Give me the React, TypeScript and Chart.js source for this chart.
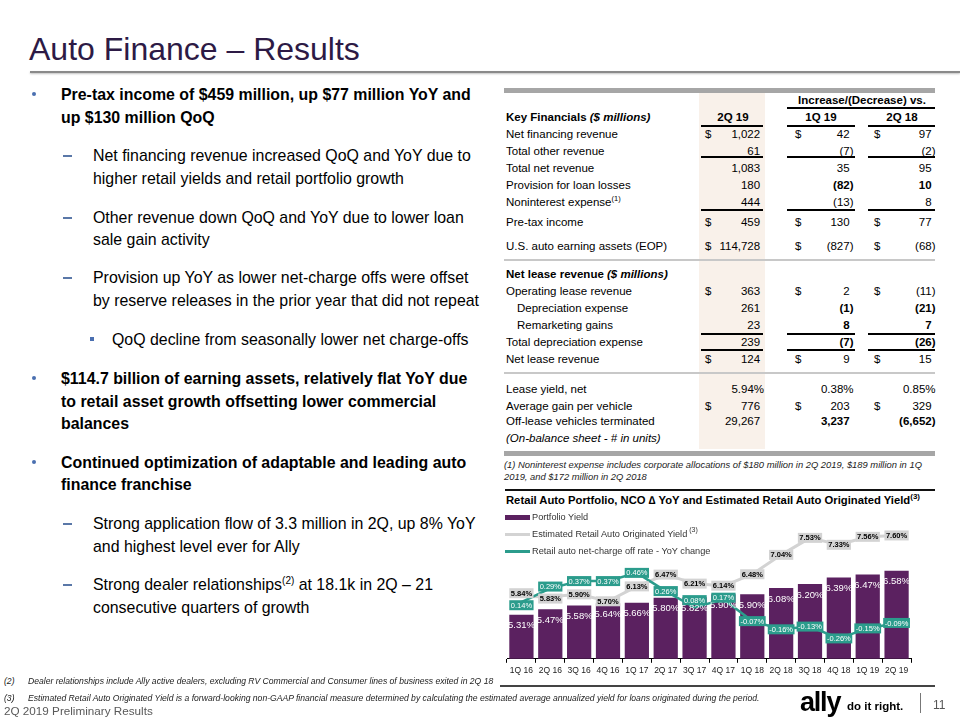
import React, { useEffect, useRef } from "react";
import { Chart, registerables } from "chart.js";

Chart.register(...registerables);

const FONT = '"Liberation Sans", Arial, Helvetica, sans-serif';

// ---------- chart data ----------
const quarters = ["1Q 16", "2Q 16", "3Q 16", "4Q 16", "1Q 17", "2Q 17", "3Q 17", "4Q 17", "1Q 18", "2Q 18", "3Q 18", "4Q 18", "1Q 19", "2Q 19"];
const portfolioYield = [5.31, 5.47, 5.58, 5.64, 5.66, 5.8, 5.82, 5.9, 5.9, 6.08, 6.2, 6.39, 6.47, 6.58];
const originatedYield = [5.84, 5.83, 5.9, 5.7, 6.13, 6.47, 6.21, 6.14, 6.48, 7.04, 7.53, 7.33, 7.56, 7.6];
const ncoYoYChange = [0.14, 0.29, 0.37, 0.37, 0.46, 0.26, 0.08, 0.17, -0.07, -0.16, -0.13, -0.26, -0.15, -0.09];

const PURPLE = "#5b2160";
const TEAL = "#2b9c8c";
const LGRAY = "#d3d3d3";

// ---------- table data ----------
type Cell = { v: string; d?: boolean; b?: boolean };
type Row = { label: string; sup?: string; indent?: boolean; a?: Cell; b?: Cell; c?: Cell };

const tableRows: Row[] = [
  { label: "Net financing revenue", a: { v: "1,022", d: true }, b: { v: "42", d: true }, c: { v: "97", d: true } },
  { label: "Total other revenue", a: { v: "61" }, b: { v: "(7)" }, c: { v: "(2)" } },
  { label: "Total net revenue", a: { v: "1,083" }, b: { v: "35" }, c: { v: "95" } },
  { label: "Provision for loan losses", a: { v: "180" }, b: { v: "(82)", b: true }, c: { v: "10", b: true } },
  { label: "Noninterest expense", sup: "(1)", a: { v: "444" }, b: { v: "(13)" }, c: { v: "8" } },
  { label: "Pre-tax income", a: { v: "459", d: true }, b: { v: "130", d: true }, c: { v: "77", d: true } },
  { label: "U.S. auto earning assets (EOP)", a: { v: "114,728", d: true }, b: { v: "(827)", d: true }, c: { v: "(68)", d: true } },
  { label: "Operating lease revenue", a: { v: "363", d: true }, b: { v: "2", d: true }, c: { v: "(11)", d: true } },
  { label: "Depreciation expense", indent: true, a: { v: "261" }, b: { v: "(1)", b: true }, c: { v: "(21)", b: true } },
  { label: "Remarketing gains", indent: true, a: { v: "23" }, b: { v: "8", b: true }, c: { v: "7", b: true } },
  { label: "Total depreciation expense", a: { v: "239" }, b: { v: "(7)", b: true }, c: { v: "(26)", b: true } },
  { label: "Net lease revenue", a: { v: "124", d: true }, b: { v: "9", d: true }, c: { v: "15", d: true } },
  { label: "Lease yield, net", a: { v: "5.94%" }, b: { v: "0.38%" }, c: { v: "0.85%" } },
  { label: "Average gain per vehicle", a: { v: "776", d: true }, b: { v: "203", d: true }, c: { v: "329", d: true } },
  { label: "Off-lease vehicles terminated", a: { v: "29,267" }, b: { v: "3,237", b: true }, c: { v: "(6,652)", b: true } },
];
const tableRowY = [134, 151, 168, 185, 202, 222, 246, 291, 308, 325, 342, 359, 389, 406, 421];

// ---------- chart label plugin ----------
const BOX_H = 10;
const valueLabelPlugin = {
  id: "valueLabels",
  afterDatasetsDraw(chart: any) {
    const ctx = chart.ctx;
    ctx.save();
    ctx.textAlign = "center";
    ctx.textBaseline = "middle";
    const datasets = chart.data.datasets;
    const metas = datasets.map((_: any, i: number) => chart.getDatasetMeta(i));
    const n = datasets[0].data.length;
    const barY: number[] = [];
    const grayY: number[] = [];
    const tealY: number[] = [];
    for (let j = 0; j < n; j++) {
      barY[j] = metas[0].data[j].y + 11;
      let g = metas[1].data[j].y;
      let t = metas[2].data[j].y;
      if (Math.abs(t - barY[j]) < 8) t = barY[j] - 8;
      if (Math.abs(g - t) < BOX_H + 2) {
        const mid = (g + t) / 2;
        const s = (BOX_H + 2) / 2;
        if (g <= t) {
          g = mid - s;
          t = mid + s;
        } else {
          g = mid + s;
          t = mid - s;
        }
      }
      grayY[j] = g;
      tealY[j] = t;
    }
    const fmt = (v: number) => v.toFixed(2) + "%";
    const bs = datasets[0].labelStyle;
    ctx.font = bs.font;
    ctx.fillStyle = bs.color;
    metas[0].data.forEach((el: any, j: number) => ctx.fillText(fmt(datasets[0].data[j]), el.x, barY[j]));
    const drawBoxes = (di: number, ys: number[]) => {
      const st = datasets[di].labelStyle;
      ctx.font = st.font;
      metas[di].data.forEach((el: any, j: number) => {
        const text = fmt(datasets[di].data[j]);
        const w = ctx.measureText(text).width + 3;
        ctx.fillStyle = st.bg;
        ctx.fillRect(el.x - w / 2, ys[j] - BOX_H / 2, w, BOX_H);
        ctx.fillStyle = st.color;
        ctx.fillText(text, el.x, ys[j] + 0.5);
      });
    };
    drawBoxes(1, grayY);
    drawBoxes(2, tealY);
    ctx.restore();
  },
};

function YieldChart() {
  const ref = useRef<HTMLCanvasElement>(null);
  useEffect(() => {
    const chart = new Chart(ref.current as HTMLCanvasElement, {
      type: "bar",
      data: {
        labels: quarters,
        datasets: [
          {
            type: "bar",
            label: "Portfolio Yield",
            data: portfolioYield,
            backgroundColor: PURPLE,
            yAxisID: "y",
            order: 3,
            categoryPercentage: 1,
            barPercentage: 0.84,
            labelStyle: { font: `9.5px ${FONT}`, color: "#ffffff" },
          } as any,
          {
            type: "line",
            label: "Estimated Retail Auto Originated Yield",
            data: originatedYield,
            borderColor: LGRAY,
            borderWidth: 3,
            pointRadius: 0,
            tension: 0,
            yAxisID: "y",
            order: 2,
            labelStyle: { font: `bold 7.5px ${FONT}`, color: "#000000", bg: LGRAY },
          } as any,
          {
            type: "line",
            label: "Retail auto net-charge off rate - YoY change",
            data: ncoYoYChange,
            borderColor: TEAL,
            borderWidth: 2.5,
            pointRadius: 0,
            tension: 0,
            yAxisID: "y2",
            order: 1,
            labelStyle: { font: `7.5px ${FONT}`, color: "#ffffff", bg: TEAL },
          } as any,
        ],
      },
      options: {
        responsive: false,
        animation: false,
        layout: { padding: { left: 7, right: 9, top: 15, bottom: 1 } },
        plugins: { legend: { display: false }, tooltip: { enabled: false } },
        scales: {
          x: {
            offset: true,
            grid: { display: true, drawOnChartArea: false, drawTicks: true, tickLength: 4, color: "#000", offset: true },
            border: { display: true, color: "#000", width: 1 },
            ticks: { font: { size: 8.5, family: FONT }, color: "#222", padding: 3, maxRotation: 0, autoSkip: false },
          },
          y: { display: false, min: 4.04, max: 8.046 },
          y2: { display: false, position: "right", min: -0.484, max: 1.041 },
        },
      },
      plugins: [valueLabelPlugin],
    } as any);
    return () => chart.destroy();
  }, []);
  return (
    <canvas
      ref={ref}
      width={420}
      height={175}
      style={{ position: "absolute", left: 500, top: 505, width: 420, height: 175 }}
    />
  );
}

// ---------- text helpers ----------
type TP = {
  x: number;
  y: number;
  size: number;
  bold?: boolean;
  italic?: boolean;
  color?: string;
  align?: "left" | "right" | "center";
  children: React.ReactNode;
  style?: React.CSSProperties;
};
function T({ x, y, size, bold, italic, color = "#000", align = "left", children, style }: TP) {
  const lh = Math.round(size * 1.3);
  const s: React.CSSProperties = {
    position: "absolute",
    top: y - lh / 2,
    lineHeight: lh + "px",
    fontSize: size,
    fontWeight: bold ? "bold" : "normal",
    fontStyle: italic ? "italic" : "normal",
    color,
    whiteSpace: "nowrap",
    fontFamily: FONT,
    ...style,
  };
  if (align === "left") s.left = x;
  else if (align === "right") s.right = 960 - x;
  else {
    s.left = x;
    s.transform = "translateX(-50%)";
  }
  return <div style={s}>{children}</div>;
}

function HLine({ x1, x2, y, h = 1, color = "#000" }: { x1: number; x2: number; y: number; h?: number; color?: string }) {
  return <div style={{ position: "absolute", left: x1, top: y - h / 2, width: x2 - x1, height: h, background: color }} />;
}

const TS = 11.5;
const cols = [
  { dollar: 705, right: 764 },
  { dollar: 795, right: 853.5 },
  { dollar: 874, right: 935.5 },
];

function ValueCell({ cell, col, y }: { cell?: Cell; col: number; y: number }) {
  if (!cell) return null;
  const c = cols[col];
  const paren = cell.v.endsWith(")") || cell.v.endsWith("%");
  return (
    <>
      {cell.d && (
        <T x={c.dollar} y={y} size={TS}>
          $
        </T>
      )}
      <T x={c.right} y={y} size={TS} align="right" bold={cell.b}>
        {cell.v}
        {!paren && <span style={{ visibility: "hidden" }}>)</span>}
      </T>
    </>
  );
}

function Bullet({ y }: { y: number }) {
  return <div style={{ position: "absolute", left: 31.5, top: y - 2, width: 4, height: 4, borderRadius: 2, background: "#4a6fb0" }} />;
}
function Dash({ y }: { y: number }) {
  return <div style={{ position: "absolute", left: 63, top: y, width: 9, height: 1.5, background: "#5a78a8" }} />;
}

const BS = 15.9;

export default function App() {
  const underlineRows = [126, 157, 210, 334, 350];
  return (
    <div
      style={{
        position: "absolute",
        left: 0,
        top: 0,
        width: 960,
        height: 720,
        overflow: "hidden",
        background: "#fff",
        fontFamily: FONT,
      }}
    >
      {/* Title */}
      <T x={29} y={49} size={32} color="#2d1a45">
        Auto Finance – Results
      </T>
      <div style={{ position: "absolute", left: 30, top: 71, width: 930, height: 2, background: "#8a8a8a", boxShadow: "0 1px 2px rgba(0,0,0,0.25)" }} />

      {/* Left bullets */}
      <Bullet y={94} />
      <T x={61} y={94} size={BS} bold>Pre-tax income of $459 million, up $77 million YoY and</T>
      <T x={61} y={117} size={BS} bold>up $130 million QoQ</T>

      <Dash y={155} />
      <T x={93} y={155} size={BS}>Net financing revenue increased QoQ and YoY due to</T>
      <T x={93} y={178} size={BS}>higher retail yields and retail portfolio growth</T>

      <Dash y={217} />
      <T x={93} y={217} size={BS}>Other revenue down QoQ and YoY due to lower loan</T>
      <T x={93} y={239} size={BS}>sale gain activity</T>

      <Dash y={277} />
      <T x={93} y={277} size={BS}>Provision up YoY as lower net-charge offs were offset</T>
      <T x={93} y={300} size={BS}>by reserve releases in the prior year that did not repeat</T>

      <div style={{ position: "absolute", left: 90, top: 337, width: 3.5, height: 3.5, background: "#4a6fb0" }} />
      <T x={112} y={339} size={BS}>QoQ decline from seasonally lower net charge-offs</T>

      <Bullet y={378} />
      <T x={61} y={378} size={BS} bold>$114.7 billion of earning assets, relatively flat YoY due</T>
      <T x={61} y={401} size={BS} bold>to retail asset growth offsetting lower commercial</T>
      <T x={61} y={423} size={BS} bold>balances</T>

      <Bullet y={462} />
      <T x={61} y={462} size={BS} bold>Continued optimization of adaptable and leading auto</T>
      <T x={61} y={484} size={BS} bold>finance franchise</T>

      <Dash y={523} />
      <T x={93} y={523} size={BS}>Strong application flow of 3.3 million in 2Q, up 8% YoY</T>
      <T x={93} y={546} size={BS}>and highest level ever for Ally</T>

      <Dash y={584} />
      <T x={93} y={584} size={BS}>
        Strong dealer relationships<sup style={{ fontSize: 10, verticalAlign: "6px", lineHeight: 0 }}>(2)</sup> at 18.1k in 2Q – 21
      </T>
      <T x={93} y={607} size={BS}>consecutive quarters of growth</T>

      {/* Table */}
      <div style={{ position: "absolute", left: 699, top: 93, width: 66, height: 356, background: "#f9f1ea" }} />
      <HLine x1={504} x2={935} y={90.5} h={5} color="#a6a6a6" />
      <HLine x1={504} x2={935} y={453.5} h={5} color="#a6a6a6" />

      <T x={862} y={100} size={TS} bold align="center">Increase/(Decrease) vs.</T>
      <HLine x1={787} x2={935} y={108} h={1.2} />

      <T x={506} y={117} size={TS} bold>
        Key Financials <i>($ millions)</i>
      </T>
      <T x={733} y={117} size={TS} bold align="center">2Q 19</T>
      <T x={821} y={117} size={TS} bold align="center">1Q 19</T>
      <T x={902} y={117} size={TS} bold align="center">2Q 18</T>

      {underlineRows.map((uy) => (
        <React.Fragment key={uy}>
          <HLine x1={701} x2={763} y={uy} h={1.2} />
          <HLine x1={787} x2={855} y={uy} h={1.2} />
          <HLine x1={868} x2={935} y={uy} h={1.2} />
        </React.Fragment>
      ))}

      <HLine x1={504} x2={935} y={260} h={1.5} color="#c8c8c8" />
      <HLine x1={504} x2={935} y={373} h={1.5} color="#c8c8c8" />

      <T x={506} y={274} size={TS} bold>
        Net lease revenue <i>($ millions)</i>
      </T>

      {tableRows.map((r, i) => {
        const y = tableRowY[i];
        return (
          <React.Fragment key={i}>
            <T x={r.indent ? 517 : 506} y={y} size={TS}>
              {r.label}
              {r.sup && <sup style={{ fontSize: 7.5, verticalAlign: "5px", lineHeight: 0 }}>{r.sup}</sup>}
            </T>
            <ValueCell cell={r.a} col={0} y={y} />
            <ValueCell cell={r.b} col={1} y={y} />
            <ValueCell cell={r.c} col={2} y={y} />
          </React.Fragment>
        );
      })}
      <T x={506} y={438} size={TS} italic>(On-balance sheet - # in units)</T>

      <T x={504} y={465} size={9.4} italic color="#222">
        (1) Noninterest expense includes corporate allocations of $180 million in 2Q 2019, $189 million in 1Q
      </T>
      <T x={504} y={476.5} size={9.4} italic color="#222">
        2019, and $172 million in 2Q 2018
      </T>

      {/* Chart */}
      <HLine x1={505} x2={935} y={490} h={1.5} color="#111" />
      <T x={506} y={500} size={11.25} bold>
        Retail Auto Portfolio, NCO ∆ YoY and Estimated Retail Auto Originated Yield
        <sup style={{ fontSize: 8, verticalAlign: "5px", lineHeight: 0 }}>(3)</sup>
      </T>
      <YieldChart />
      <div style={{ position: "absolute", left: 505, top: 515, width: 25, height: 4.5, background: PURPLE }} />
      <div style={{ position: "absolute", left: 505, top: 532.5, width: 25, height: 3, background: LGRAY }} />
      <div style={{ position: "absolute", left: 505, top: 549.5, width: 25, height: 3, background: TEAL }} />
      <T x={532} y={517} size={9.2} color="#333">Portfolio Yield</T>
      <T x={532} y={534} size={9.2} color="#333">
        Estimated Retail Auto Originated Yield<sup style={{ fontSize: 7, verticalAlign: "5px", lineHeight: 0 }}> (3)</sup>
      </T>
      <T x={532} y={551} size={9.2} color="#333">Retail auto net-charge off rate - YoY change</T>

      {/* Footer */}
      <HLine x1={500} x2={935} y={686} h={1.5} color="#444" />
      <T x={4} y={681} size={8.6} italic color="#222">(2)</T>
      <T x={28} y={681} size={8.6} italic color="#222">
        Dealer relationships include Ally active dealers, excluding RV Commercial and Consumer lines of business exited in 2Q 18
      </T>
      <T x={4} y={698} size={8.6} italic color="#222">(3)</T>
      <T x={28} y={698} size={8.6} italic color="#222">
        Estimated Retail Auto Originated Yield is a forward-looking non-GAAP financial measure determined by calculating the estimated average annualized yield for loans originated during the period.
      </T>
      <T x={4} y={710} size={11.7} color="#595959">2Q 2019 Preliminary Results</T>

      <T x={800} y={702} size={27} bold color="#000" style={{ letterSpacing: -1.2 }}>ally</T>
      <T x={847} y={706} size={11.5} bold color="#000">do it right.</T>
      <div style={{ position: "absolute", left: 920, top: 693, width: 1, height: 20, background: "#777" }} />
      <T x={933} y={705} size={12} color="#555">11</T>
    </div>
  );
}
